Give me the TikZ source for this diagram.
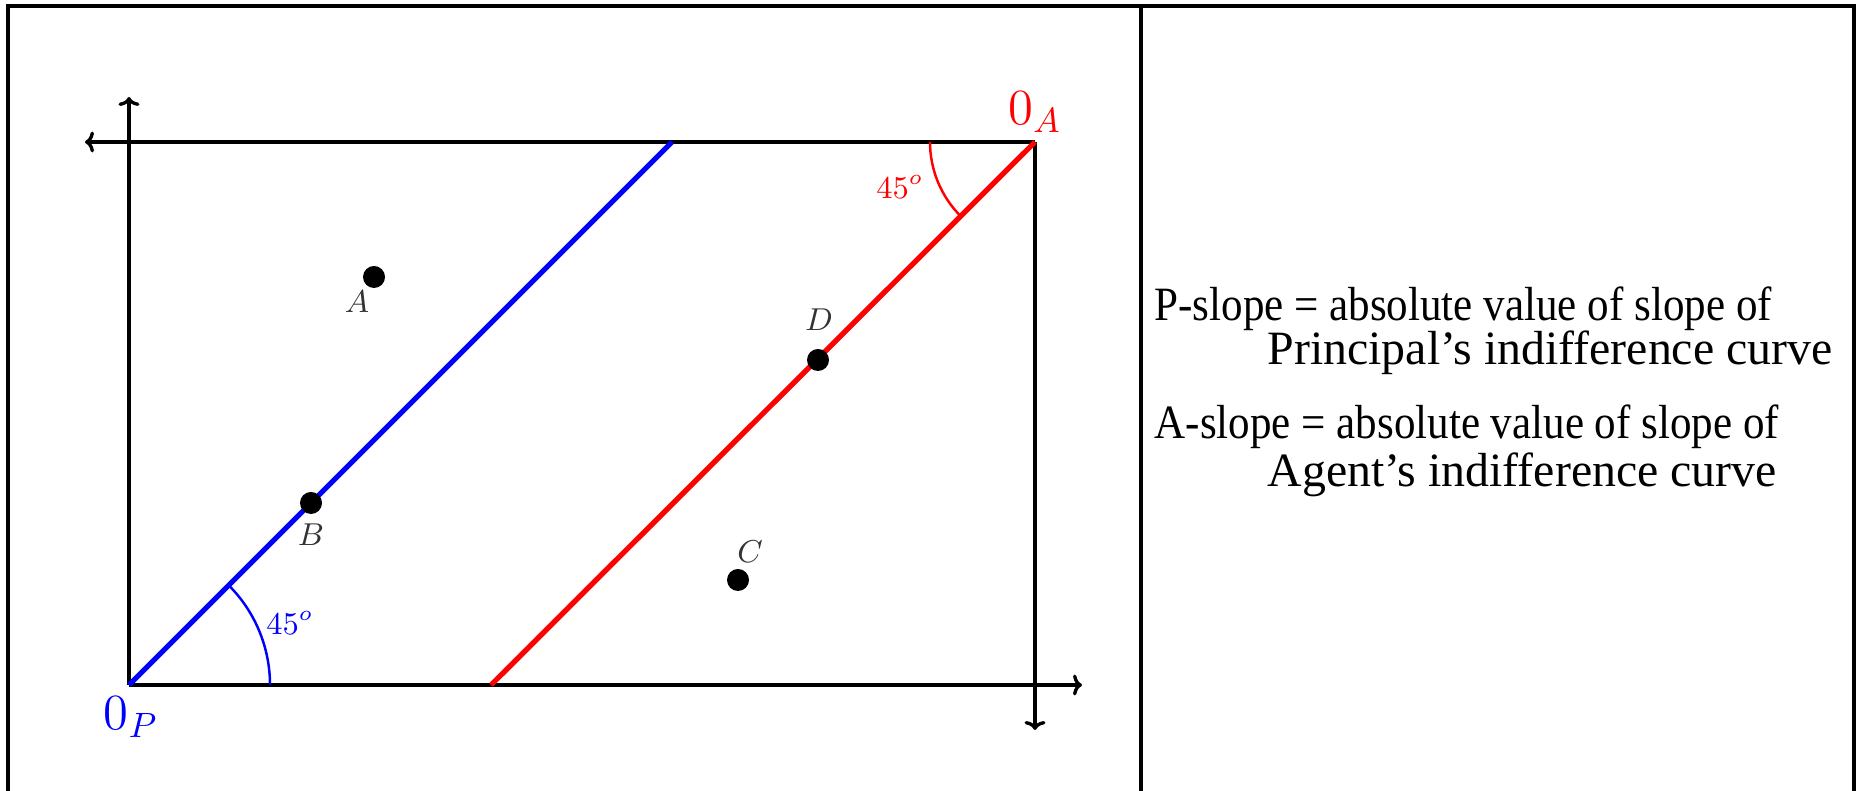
\documentclass[tikz,border=0pt]{standalone}
\usepackage{fontspec}
\setmainfont{Liberation Serif}
\usepackage{xcolor}
\usepackage{tikz}
\usetikzlibrary{positioning, arrows.meta, calc}
\definecolor{pblue}{HTML}{0000FF}
\definecolor{ared}{HTML}{FF0000}

\begin{document}
\begin{tikzpicture}[x=0.01cm, y=0.01cm,
    frame/.style={line width=1.1pt, black},
    axis/.style={line width=0.95pt, black},
    icurve/.style={line width=1.5pt},
    anglearc/.style={line width=0.7pt},
    dot/.style={circle, fill=black, inner sep=0pt, minimum size=0.22cm},
    ptlabel/.style={font=\fontsize{9}{10}\selectfont, text=black!80},
    originlabel/.style={font=\fontsize{14}{16}\selectfont},
    angletext/.style={font=\fontsize{9}{10}\selectfont},
    legend/.style={anchor=base west, inner sep=0pt, font=\fontsize{13.6}{15}\selectfont},
    narrow/.style={xscale=0.9, transform shape},
    >={To[length=0.9mm, width=2.1mm]}]
  \useasboundingbox (0,0) rectangle (1860,791);

  % table frame
  \draw[frame] (8,0) -- (8,785) -- (1854,785) -- (1854,0);
  \draw[frame] (1141,0) -- (1141,785);

  % the two origins and the axis ends
  \coordinate (OP) at (129,106);
  \coordinate (OA) at (1035,649);
  \coordinate (pxend) at (1082,106);
  \coordinate (pyend) at (129,694);
  \coordinate (axend) at (85,649);
  \coordinate (ayend) at (1035,61);

  \draw[axis,->] (OP) -- (pxend);
  \draw[axis,->] (OP) -- (pyend);
  \draw[axis,->] (OA) -- (axend);
  \draw[axis,->] (OA) -- (ayend);

  % indifference curves
  \coordinate (blueend) at (672,649);
  \coordinate (redstart) at (491,106);
  \draw[icurve, pblue] (OP) -- (blueend);
  \draw[icurve, ared] (redstart) -- (OA);

  % 45 degree marks
  \draw[anglearc, pblue] ($(OP)+(141,0)$) arc[start angle=0, end angle=45, radius=141];
  \draw[anglearc, ared] ($(OA)+(-105,0)$) arc[start angle=180, end angle=225, radius=105];
  \node[angletext, pblue] (pangle) at (290,168) {$45^o$};
  \node[angletext, ared] (aangle) at (900,604) {$45^o$};

  \node[originlabel, pblue] (oplabel) at (131,74) {$0_P$};
  \node[originlabel, ared] (oalabel) at (1035,679) {$0_A$};

  % allocations
  \node[dot] (A) at (374,514) {};
  \node[dot] (B) at (311,288) {};
  \node[dot] (C) at (738,211) {};
  \node[dot] (D) at (818,431) {};
  \node[ptlabel] (alabel) at (357,489) {$A$};
  \node[ptlabel] (blabel) at (311,256) {$B$};
  \node[ptlabel] (clabel) at (750,239) {$C$};
  \node[ptlabel] (dlabel) at (819,471) {$D$};

  % legend
  \node[legend, narrow] (pslope) at (1154,470) {P-slope = absolute value of slope of};
  \node[legend] (pcurve) at (1267,426) {Principal’s indifference curve};
  \node[legend, narrow] (aslope) at (1154,352) {A-slope = absolute value of slope of};
  \node[legend] (acurve) at (1267,304) {Agent’s indifference curve};
\end{tikzpicture}
\end{document}
